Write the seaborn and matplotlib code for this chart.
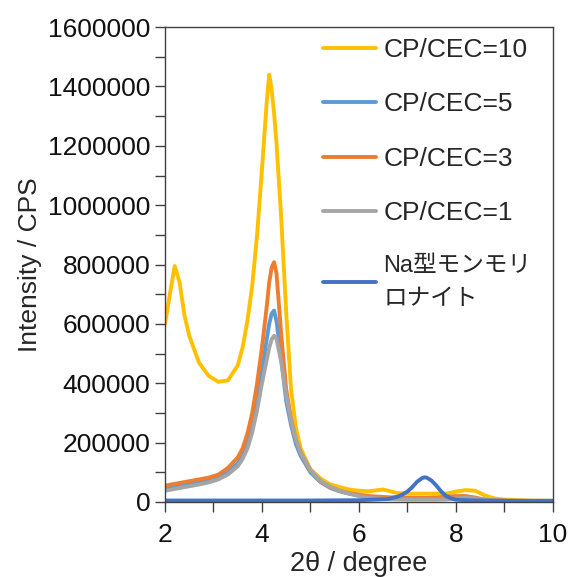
import pandas as pd
import matplotlib
matplotlib.use("Agg")
import matplotlib.pyplot as plt
import seaborn as sns
from matplotlib.ticker import MultipleLocator

## Data
two_theta = [2.0, 2.1, 2.2, 2.3, 2.4, 2.5, 2.7, 2.9, 3.1, 3.3, 3.5, 3.6, 3.7, 3.8, 3.9,
             4.0, 4.1, 4.15, 4.2, 4.25, 4.3, 4.4, 4.5, 4.6, 4.7, 4.8, 5.0, 5.2, 5.4,
             5.6, 5.8, 6.0, 6.2, 6.4, 6.5, 6.6, 6.8, 7.0, 7.2, 7.4, 7.6, 7.8, 8.0,
             8.2, 8.4, 8.6, 8.8, 9.0, 9.5, 10.0]

cp10 = [600000, 700000, 795000, 740000, 630000, 560000, 470000, 425000, 405000, 410000,
        460000, 520000, 610000, 730000, 900000, 1120000, 1350000, 1440000, 1390000,
        1310000, 1210000, 950000, 640000, 380000, 250000, 180000, 110000, 80000, 60000,
        50000, 42000, 38000, 36000, 40000, 42000, 38000, 30000, 28000, 28000, 28000,
        28000, 28000, 35000, 40000, 38000, 22000, 12000, 8000, 5000, 4000]

cp5 = [45000, 48000, 50000, 53000, 56000, 59000, 65000, 72000, 82000, 100000, 130000,
       155000, 195000, 255000, 340000, 440000, 550000, 600000, 635000, 645000, 610000,
       480000, 340000, 260000, 195000, 155000, 100000, 68000, 48000, 36000, 28000,
       22000, 18000, 16000, 15000, 14000, 13000, 12000, 12000, 12000, 12000, 13000,
       14000, 14000, 11000, 7000, 5000, 4000, 3000, 3000]

cp3 = [55000, 58000, 61000, 64000, 67000, 70000, 76000, 82000, 92000, 115000, 150000,
       180000, 230000, 300000, 400000, 520000, 660000, 740000, 790000, 808000, 770000,
       560000, 380000, 280000, 210000, 165000, 105000, 70000, 50000, 38000, 30000,
       25000, 20000, 18000, 17000, 16000, 15000, 14000, 14000, 14000, 15000, 18000,
       20000, 20000, 15000, 8000, 5000, 4000, 3000, 3000]

cp1 = [38000, 41000, 44000, 47000, 50000, 53000, 59000, 66000, 76000, 93000, 120000,
       145000, 180000, 235000, 310000, 400000, 480000, 520000, 548000, 560000, 550000,
       470000, 360000, 275000, 210000, 165000, 108000, 72000, 52000, 38000, 28000,
       20000, 15000, 12000, 11000, 10000, 9000, 8000, 8000, 8000, 8000, 9000,
       12000, 14000, 12000, 8000, 5000, 4000, 3000, 3000]

na_theta = [2.0, 3.0, 4.0, 5.0, 6.0, 6.6, 6.8, 6.9, 7.0, 7.1, 7.2, 7.3, 7.35, 7.4, 7.5,
            7.6, 7.7, 7.8, 7.9, 8.0, 8.2, 8.5, 9.0, 10.0]
na_mont = [5000, 5000, 5000, 5000, 6000, 10000, 18000, 25000, 35000, 50000, 68000,
           80000, 83000, 82000, 72000, 55000, 35000, 20000, 12000, 8000, 6000, 5000,
           4000, 4000]

labels = ["CP/CEC=10", "CP/CEC=5", "CP/CEC=3", "CP/CEC=1", "Na型モンモリ\nロナイト"]
colors = ["#FFC000", "#5B9BD5", "#ED7D31", "#A5A5A5", "#4472C4"]

frames = []
for name, ys in zip(labels[:4], [cp10, cp5, cp3, cp1]):
    frames.append(pd.DataFrame({"x": two_theta, "y": ys, "sample": name}))
frames.append(pd.DataFrame({"x": na_theta, "y": na_mont, "sample": labels[4]}))
df = pd.concat(frames, ignore_index=True)

sns.set_style("ticks")
plt.rcParams["font.family"] = ["Liberation Sans", "Noto Sans CJK JP"]

fig = plt.figure(figsize=(5.71, 5.77), dpi=100)
ax = fig.add_axes([0.289, 0.130, 0.679, 0.823])

sns.lineplot(data=df, x="x", y="y", hue="sample", hue_order=labels,
             palette=colors, linewidth=2.8, estimator=None, sort=False, ax=ax)

ax.set_xlim(2, 10)
ax.set_ylim(0, 1600000)
ax.xaxis.set_major_locator(MultipleLocator(2))
ax.xaxis.set_minor_locator(MultipleLocator(1))
ax.yaxis.set_major_locator(MultipleLocator(200000))
ax.yaxis.set_minor_locator(MultipleLocator(100000))
ax.ticklabel_format(axis="y", style="plain", useOffset=False)
ax.tick_params(which="both", direction="out", length=7, width=1, color="#404040",
               labelsize=19, labelcolor="#111111")
ax.tick_params(axis="x", pad=8)
for s in ax.spines.values():
    s.set_color("#404040")
    s.set_linewidth(1)

ax.set_xlabel("2θ / degree", fontsize=19.5, labelpad=3)
ax.set_ylabel("Intensity / CPS", fontsize=19, labelpad=4)

handles, labs = ax.get_legend_handles_labels()
leg = ax.legend(handles, labs, loc="upper right", bbox_to_anchor=(0.99, 1.013), frameon=False,
                fontsize=19, handlelength=2.0, handletextpad=0.3, labelspacing=1.15,
                borderaxespad=0.25)
leg.get_texts()[4].set_fontsize(17)
leg.get_texts()[4].set_linespacing(1.6)

plt.savefig("out.png", dpi=100)
